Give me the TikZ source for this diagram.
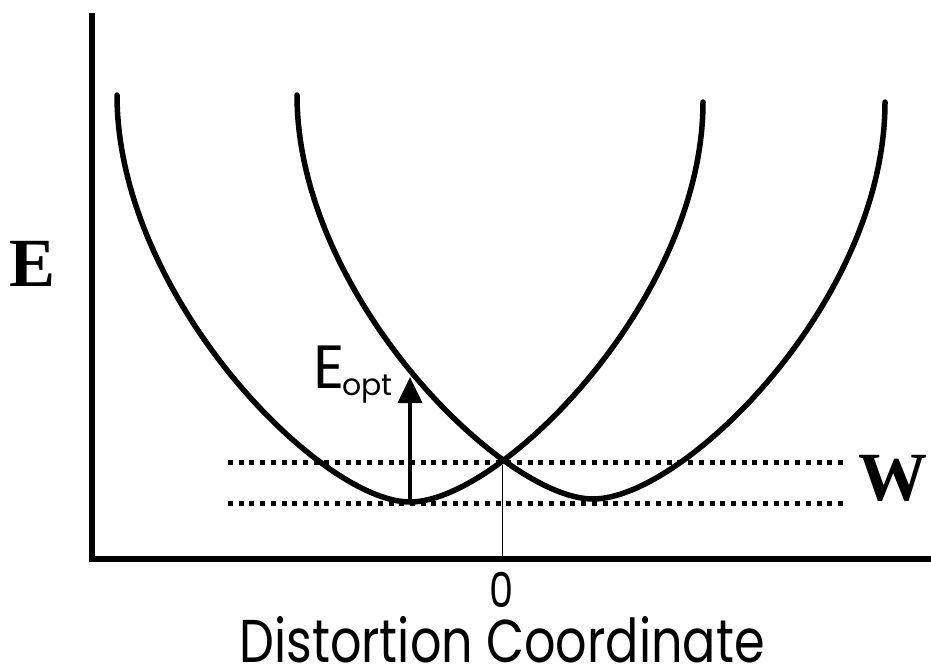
\documentclass[tikz,border=0pt]{standalone}
\usepackage{fontspec}
\setmainfont{Liberation Serif}
\newfontfamily\gothic{Poppins}
\usetikzlibrary{arrows.meta}
\tikzset{
  axisline/.style={line width=5.5pt, line join=miter},
  curveline/.style={line width=5.5pt, line cap=round},
  dotline/.style={line width=5pt, dash pattern=on 5pt off 5.7pt},
  thinline/.style={line width=1pt},
  optarrow/.style={line width=4pt, -{Triangle[length=26pt,width=24pt]}},
  serifbold/.style={font=\fontsize{69}{69}\selectfont\bfseries, inner sep=0pt},
  sanslabel/.style={inner sep=0pt},
}
\begin{document}
\begin{tikzpicture}[x=1pt,y=-1pt]
\useasboundingbox (0,0) rectangle (931,669);
% axes
\coordinate (ytop) at (92,13);
\coordinate (orig) at (92,559);
\coordinate (xend) at (931,559);
\draw[axisline] (ytop) -- (orig) -- (xend);
% dotted levels
\draw[dotline] (228,462) -- (845,462);
\draw[dotline] (228,503) -- (845,503);
% left curve
\coordinate (lmin) at (410,502);
\draw[curveline] (117,95) .. controls (117,295) and (320,502) .. (lmin)
  .. controls (500,502) and (703,300) .. (703,102);
% right curve
\coordinate (rmin) at (593,499);
\draw[curveline] (297,95) .. controls (297,295) and (503,499) .. (rmin)
  .. controls (683,499) and (885,302) .. (885,102);
% crossing drop line
\coordinate (cross) at (502,465);
\coordinate (cfoot) at (502,557);
\draw[thinline] (cross) -- (cfoot);
% optical arrow
\coordinate (amin) at (410,500);
\coordinate (atip) at (410,377);
\draw[optarrow] (amin) -- (atip);
% labels
\node[serifbold] (Elab) at (33,264) {E};
\node[serifbold] (Wlab) at (893,478) {W};
\node[sanslabel, anchor=base west] (Eopt) at (313,388) {\gothic\fontsize{61}{61}\selectfont E\kern-2pt\raisebox{-7pt}{\fontsize{30}{30}\selectfont opt}};
\node[sanslabel, anchor=base, xscale=0.8] (zero) at (502,607) {\gothic\fontsize{48}{48}\selectfont 0};
\node[sanslabel, anchor=base, text depth=0pt, xscale=0.88, yscale=1.08] (xlab) at (502,662) {\gothic\fontsize{56}{56}\selectfont Distortion Coordinate};
\end{tikzpicture}
\end{document}
